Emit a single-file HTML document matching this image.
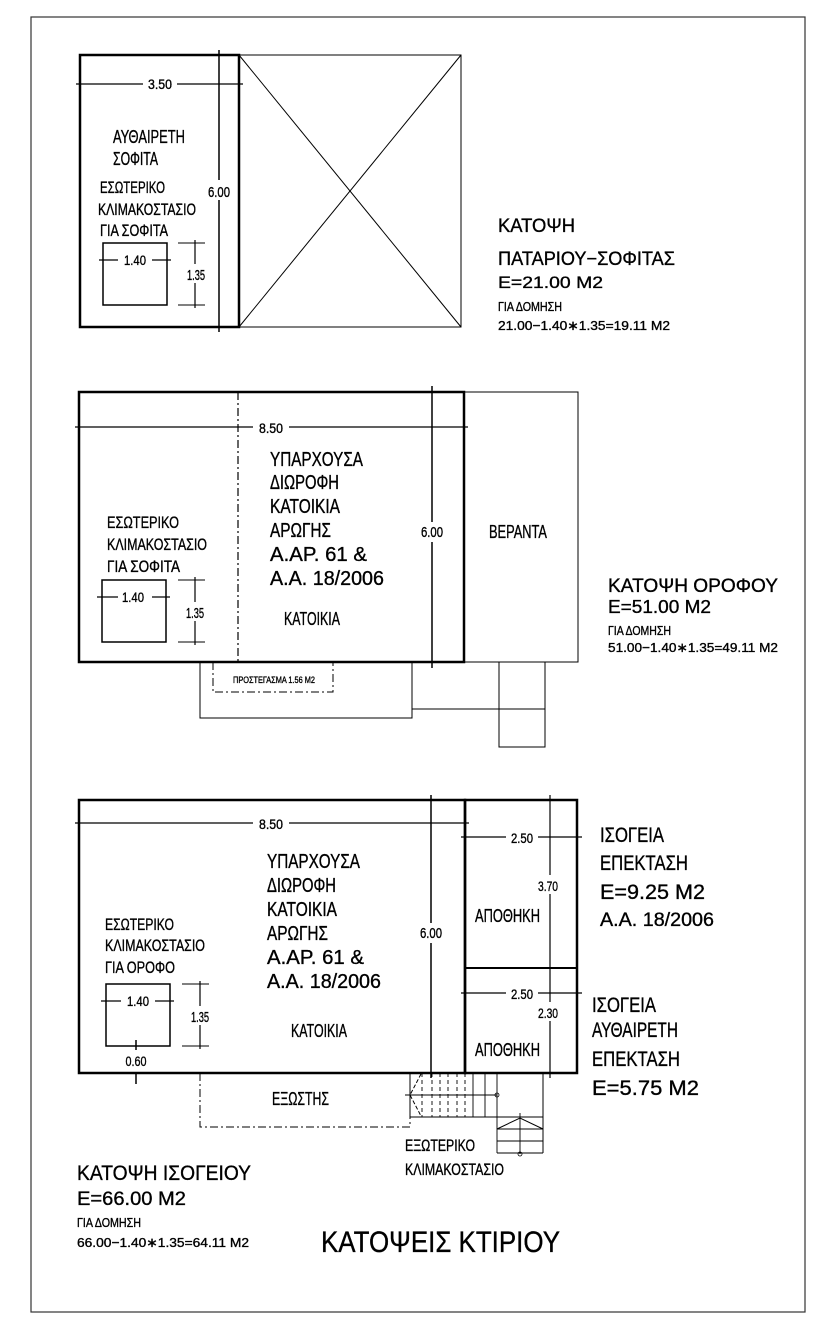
<!DOCTYPE html>
<html><head><meta charset="utf-8"><style>
html,body{margin:0;padding:0;background:#fff;}
svg{display:block;}
text{font-family:"Liberation Sans",sans-serif;fill:#000;stroke:#000;stroke-width:0.35;}
</style></head><body>
<svg width="827" height="1333" viewBox="0 0 827 1333" xmlns="http://www.w3.org/2000/svg">
<rect x="31" y="17" width="774" height="1295" fill="none" stroke="#333" stroke-width="1.2"/>

<!-- ===== TOP PLAN ===== -->
<g stroke="#000" fill="none">
<rect x="80" y="55" width="159" height="272" stroke-width="2.5"/>
<rect x="239" y="55" width="222" height="272" stroke-width="1"/>
<line x1="239" y1="55" x2="461" y2="327" stroke-width="1"/>
<line x1="461" y1="55" x2="239" y2="327" stroke-width="1"/>
<line x1="219" y1="50" x2="219" y2="332" stroke-width="1.5"/>
<line x1="76" y1="84" x2="243" y2="84" stroke-width="1.2"/>
<rect x="103" y="243" width="64" height="62" stroke-width="1.5"/>
<line x1="99" y1="260" x2="171" y2="260" stroke-width="1.2"/>
<line x1="195" y1="240" x2="195" y2="308" stroke-width="1.2"/>
<line x1="178" y1="243" x2="205" y2="243" stroke-width="1"/>
<line x1="178" y1="305" x2="205" y2="305" stroke-width="1"/>
</g>
<rect x="143" y="76" width="34" height="16" fill="#fff"/>
<text x="160" y="89" font-size="14" text-anchor="middle" textLength="24" lengthAdjust="spacingAndGlyphs">3.50</text>
<rect x="118" y="252" width="34" height="15" fill="#fff"/>
<text x="135" y="265" font-size="14" text-anchor="middle" textLength="22" lengthAdjust="spacingAndGlyphs">1.40</text>
<rect x="186" y="264" width="18" height="19" fill="#fff"/>
<text x="196" y="280" font-size="15" text-anchor="middle" textLength="18" lengthAdjust="spacingAndGlyphs">1.35</text>
<rect x="208" y="180" width="22" height="20" fill="#fff"/>
<text x="219" y="197" font-size="15" text-anchor="middle" textLength="22" lengthAdjust="spacingAndGlyphs">6.00</text>
<text x="113" y="143" font-size="18" textLength="72" lengthAdjust="spacingAndGlyphs">ΑΥΘΑΙΡΕΤΗ</text>
<text x="113" y="165" font-size="18" textLength="45" lengthAdjust="spacingAndGlyphs">ΣΟΦΙΤΑ</text>
<text x="100" y="193" font-size="17" textLength="65" lengthAdjust="spacingAndGlyphs">ΕΣΩΤΕΡΙΚΟ</text>
<text x="98" y="215" font-size="17" textLength="98" lengthAdjust="spacingAndGlyphs">ΚΛΙΜΑΚΟΣΤΑΣΙΟ</text>
<text x="100" y="236" font-size="17" textLength="68" lengthAdjust="spacingAndGlyphs">ΓΙΑ  ΣΟΦΙΤΑ</text>

<text x="498" y="232" font-size="19" textLength="77" lengthAdjust="spacingAndGlyphs">ΚΑΤΟΨΗ</text>
<text x="498" y="265" font-size="19" textLength="177" lengthAdjust="spacingAndGlyphs">ΠΑΤΑΡΙΟΥ−ΣΟΦΙΤΑΣ</text>
<text x="498" y="288" font-size="17" textLength="105" lengthAdjust="spacingAndGlyphs">Ε=21.00  Μ2</text>
<text x="498" y="311" font-size="13" textLength="64" lengthAdjust="spacingAndGlyphs">ΓΙΑ ΔΟΜΗΣΗ</text>
<text x="498" y="330" font-size="13" textLength="172" lengthAdjust="spacingAndGlyphs">21.00−1.40∗1.35=19.11  Μ2</text>

<!-- ===== MIDDLE PLAN ===== -->
<g stroke="#000" fill="none">
<rect x="79" y="392" width="385" height="270" stroke-width="2.5"/>
<line x1="238" y1="392" x2="238" y2="662" stroke-width="1.2" stroke-dasharray="8,3,2,3"/>
<rect x="464" y="392" width="114" height="270" stroke-width="1"/>
<line x1="432" y1="386" x2="432" y2="668" stroke-width="1.5"/>
<line x1="75" y1="427" x2="468" y2="427" stroke-width="1.2"/>
<rect x="102" y="580" width="64" height="62" stroke-width="1.5"/>
<line x1="97" y1="597" x2="170" y2="597" stroke-width="1.2"/>
<line x1="195" y1="577" x2="195" y2="645" stroke-width="1.2"/>
<line x1="178" y1="580" x2="205" y2="580" stroke-width="1"/>
<line x1="178" y1="642" x2="205" y2="642" stroke-width="1"/>
<polyline points="200,662 200,718 412,718 412,662" stroke-width="1"/>
<polyline points="213,662 213,692 333,692 333,662" stroke-width="1" stroke-dasharray="8,3,2,3"/>
<line x1="412" y1="709" x2="545" y2="709" stroke-width="1"/>
<rect x="499" y="662" width="46" height="47" stroke-width="1"/>
<rect x="499" y="709" width="46" height="38" stroke-width="1"/>
</g>
<rect x="253" y="420" width="36" height="16" fill="#fff"/>
<text x="271" y="433" font-size="14" text-anchor="middle" textLength="24" lengthAdjust="spacingAndGlyphs">8.50</text>
<rect x="118" y="589" width="34" height="15" fill="#fff"/>
<text x="133" y="602" font-size="14" text-anchor="middle" textLength="22" lengthAdjust="spacingAndGlyphs">1.40</text>
<rect x="186" y="602" width="18" height="19" fill="#fff"/>
<text x="195" y="618" font-size="15" text-anchor="middle" textLength="18" lengthAdjust="spacingAndGlyphs">1.35</text>
<rect x="420" y="522" width="24" height="20" fill="#fff"/>
<text x="432" y="537" font-size="15" text-anchor="middle" textLength="22" lengthAdjust="spacingAndGlyphs">6.00</text>
<text x="270" y="466" font-size="20" textLength="93" lengthAdjust="spacingAndGlyphs">ΥΠΑΡΧΟΥΣΑ</text>
<text x="270" y="489" font-size="20" textLength="69" lengthAdjust="spacingAndGlyphs">ΔΙΩΡΟΦΗ</text>
<text x="270" y="513" font-size="20" textLength="70" lengthAdjust="spacingAndGlyphs">ΚΑΤΟΙΚΙΑ</text>
<text x="270" y="537" font-size="20" textLength="61" lengthAdjust="spacingAndGlyphs">ΑΡΩΓΗΣ</text>
<text x="270" y="561" font-size="20" textLength="97" lengthAdjust="spacingAndGlyphs">Α.ΑΡ.  61  &amp;</text>
<text x="270" y="585" font-size="20" textLength="114" lengthAdjust="spacingAndGlyphs">Α.Α.  18/2006</text>
<text x="284" y="625" font-size="18" textLength="56" lengthAdjust="spacingAndGlyphs">ΚΑΤΟΙΚΙΑ</text>
<text x="489" y="538" font-size="18" textLength="58" lengthAdjust="spacingAndGlyphs">ΒΕΡΑΝΤΑ</text>
<text x="107" y="528" font-size="17" textLength="72" lengthAdjust="spacingAndGlyphs">ΕΣΩΤΕΡΙΚΟ</text>
<text x="107" y="550" font-size="17" textLength="100" lengthAdjust="spacingAndGlyphs">ΚΛΙΜΑΚΟΣΤΑΣΙΟ</text>
<text x="107" y="572" font-size="17" textLength="73" lengthAdjust="spacingAndGlyphs">ΓΙΑ  ΣΟΦΙΤΑ</text>
<text x="233" y="683" font-size="9" textLength="82" lengthAdjust="spacingAndGlyphs">ΠΡΟΣΤΕΓΑΣΜΑ  1.56  Μ2</text>

<text x="608" y="592" font-size="19" textLength="170" lengthAdjust="spacingAndGlyphs">ΚΑΤΟΨΗ  ΟΡΟΦΟΥ</text>
<text x="608" y="613" font-size="18" textLength="103" lengthAdjust="spacingAndGlyphs">Ε=51.00  Μ2</text>
<text x="608" y="635" font-size="13" textLength="63" lengthAdjust="spacingAndGlyphs">ΓΙΑ ΔΟΜΗΣΗ</text>
<text x="608" y="652" font-size="13" textLength="170" lengthAdjust="spacingAndGlyphs">51.00−1.40∗1.35=49.11  Μ2</text>

<!-- ===== BOTTOM PLAN ===== -->
<g stroke="#000" fill="none">
<rect x="79" y="800" width="386" height="273" stroke-width="2.5"/>
<rect x="465" y="800" width="112" height="273" stroke-width="2.5"/>
<line x1="465" y1="968" x2="577" y2="968" stroke-width="2"/>
<line x1="431" y1="795" x2="431" y2="1078" stroke-width="1.5"/>
<line x1="550" y1="795" x2="550" y2="1078" stroke-width="1.2"/>
<line x1="75" y1="823" x2="469" y2="823" stroke-width="1.2"/>
<line x1="461" y1="837" x2="582" y2="837" stroke-width="1.2"/>
<line x1="461" y1="993" x2="582" y2="993" stroke-width="1.2"/>
<rect x="106" y="984" width="64" height="62" stroke-width="1.5"/>
<line x1="101" y1="1001" x2="174" y2="1001" stroke-width="1.2"/>
<line x1="200" y1="981" x2="200" y2="1049" stroke-width="1.2"/>
<line x1="182" y1="984" x2="209" y2="984" stroke-width="1"/>
<line x1="182" y1="1046" x2="209" y2="1046" stroke-width="1"/>
<line x1="136" y1="1040" x2="136" y2="1050" stroke-width="1.5"/>
<line x1="136" y1="1073" x2="136" y2="1084" stroke-width="1.5"/>
<polyline points="200,1073 200,1127 410,1127 410,1117" stroke-width="1" stroke-dasharray="8,3,2,3"/>
<line x1="410" y1="1073" x2="410" y2="1117" stroke-width="1"/>
<line x1="410" y1="1117" x2="543" y2="1117" stroke-width="1"/>
<line x1="543" y1="1073" x2="543" y2="1153" stroke-width="1"/>
<g stroke-width="0.9" stroke-dasharray="4,3">
<line x1="422" y1="1073" x2="422" y2="1117"/><line x1="432" y1="1073" x2="432" y2="1117"/>
<line x1="440" y1="1073" x2="440" y2="1117"/><line x1="448" y1="1073" x2="448" y2="1117"/>
<line x1="457" y1="1073" x2="457" y2="1117"/><line x1="465" y1="1073" x2="465" y2="1117"/>
</g>
<g stroke-width="0.9">
<line x1="473" y1="1073" x2="473" y2="1117"/><line x1="485" y1="1073" x2="485" y2="1117"/>
<line x1="497" y1="1073" x2="497" y2="1153"/>
<line x1="497" y1="1129" x2="543" y2="1129"/><line x1="497" y1="1141" x2="543" y2="1141"/>
<line x1="497" y1="1153" x2="543" y2="1153"/>
<line x1="520" y1="1113" x2="520" y2="1154"/>
<line x1="405" y1="1095" x2="497" y2="1095"/>
</g>
<polyline points="497,1129 520,1118 543,1129" stroke-width="1"/>
<polyline points="421,1074 410,1095 421,1116" stroke-width="1" stroke-dasharray="4,2"/>
<circle cx="497" cy="1095" r="2" stroke-width="0.8"/>
<circle cx="520" cy="1154" r="2" stroke-width="0.8"/>
</g>
<rect x="253" y="816" width="36" height="16" fill="#fff"/>
<text x="271" y="829" font-size="14" text-anchor="middle" textLength="24" lengthAdjust="spacingAndGlyphs">8.50</text>
<rect x="506" y="830" width="32" height="16" fill="#fff"/>
<text x="522" y="843" font-size="14" text-anchor="middle" textLength="22" lengthAdjust="spacingAndGlyphs">2.50</text>
<rect x="506" y="986" width="32" height="16" fill="#fff"/>
<text x="522" y="999" font-size="14" text-anchor="middle" textLength="22" lengthAdjust="spacingAndGlyphs">2.50</text>
<rect x="539" y="875" width="22" height="19" fill="#fff"/>
<text x="548" y="891" font-size="14" text-anchor="middle" textLength="20" lengthAdjust="spacingAndGlyphs">3.70</text>
<rect x="539" y="1002" width="22" height="19" fill="#fff"/>
<text x="548" y="1018" font-size="14" text-anchor="middle" textLength="20" lengthAdjust="spacingAndGlyphs">2.30</text>
<rect x="121" y="993" width="34" height="15" fill="#fff"/>
<text x="138" y="1006" font-size="14" text-anchor="middle" textLength="22" lengthAdjust="spacingAndGlyphs">1.40</text>
<rect x="191" y="1006" width="18" height="19" fill="#fff"/>
<text x="200" y="1022" font-size="15" text-anchor="middle" textLength="18" lengthAdjust="spacingAndGlyphs">1.35</text>
<text x="136" y="1066" font-size="14" text-anchor="middle" textLength="21" lengthAdjust="spacingAndGlyphs">0.60</text>
<rect x="420" y="923" width="24" height="20" fill="#fff"/>
<text x="431" y="938" font-size="15" text-anchor="middle" textLength="22" lengthAdjust="spacingAndGlyphs">6.00</text>
<text x="267" y="868" font-size="20" textLength="93" lengthAdjust="spacingAndGlyphs">ΥΠΑΡΧΟΥΣΑ</text>
<text x="267" y="892" font-size="20" textLength="69" lengthAdjust="spacingAndGlyphs">ΔΙΩΡΟΦΗ</text>
<text x="267" y="916" font-size="20" textLength="70" lengthAdjust="spacingAndGlyphs">ΚΑΤΟΙΚΙΑ</text>
<text x="267" y="940" font-size="20" textLength="61" lengthAdjust="spacingAndGlyphs">ΑΡΩΓΗΣ</text>
<text x="267" y="964" font-size="20" textLength="97" lengthAdjust="spacingAndGlyphs">Α.ΑΡ.  61  &amp;</text>
<text x="267" y="988" font-size="20" textLength="114" lengthAdjust="spacingAndGlyphs">Α.Α.  18/2006</text>
<text x="291" y="1037" font-size="18" textLength="56" lengthAdjust="spacingAndGlyphs">ΚΑΤΟΙΚΙΑ</text>
<text x="105" y="930" font-size="17" textLength="69" lengthAdjust="spacingAndGlyphs">ΕΣΩΤΕΡΙΚΟ</text>
<text x="105" y="951" font-size="17" textLength="100" lengthAdjust="spacingAndGlyphs">ΚΛΙΜΑΚΟΣΤΑΣΙΟ</text>
<text x="105" y="973" font-size="17" textLength="70" lengthAdjust="spacingAndGlyphs">ΓΙΑ  ΟΡΟΦΟ</text>
<text x="475" y="922" font-size="18" textLength="65" lengthAdjust="spacingAndGlyphs">ΑΠΟΘΗΚΗ</text>
<text x="475" y="1056" font-size="18" textLength="65" lengthAdjust="spacingAndGlyphs">ΑΠΟΘΗΚΗ</text>
<text x="272" y="1105" font-size="18" textLength="57" lengthAdjust="spacingAndGlyphs">ΕΞΩΣΤΗΣ</text>
<text x="405" y="1151" font-size="17" textLength="70" lengthAdjust="spacingAndGlyphs">ΕΞΩΤΕΡΙΚΟ</text>
<text x="405" y="1175" font-size="17" textLength="99" lengthAdjust="spacingAndGlyphs">ΚΛΙΜΑΚΟΣΤΑΣΙΟ</text>

<text x="600" y="842" font-size="21" textLength="64" lengthAdjust="spacingAndGlyphs">ΙΣΟΓΕΙΑ</text>
<text x="600" y="870" font-size="21" textLength="88" lengthAdjust="spacingAndGlyphs">ΕΠΕΚΤΑΣΗ</text>
<text x="600" y="899" font-size="21" textLength="105" lengthAdjust="spacingAndGlyphs">Ε=9.25  Μ2</text>
<text x="600" y="926" font-size="19" textLength="114" lengthAdjust="spacingAndGlyphs">Α.Α.  18/2006</text>
<text x="592" y="1012" font-size="21" textLength="64" lengthAdjust="spacingAndGlyphs">ΙΣΟΓΕΙΑ</text>
<text x="592" y="1037" font-size="21" textLength="86" lengthAdjust="spacingAndGlyphs">ΑΥΘΑΙΡΕΤΗ</text>
<text x="592" y="1066" font-size="21" textLength="88" lengthAdjust="spacingAndGlyphs">ΕΠΕΚΤΑΣΗ</text>
<text x="592" y="1095" font-size="21" textLength="107" lengthAdjust="spacingAndGlyphs">Ε=5.75  Μ2</text>

<text x="77" y="1180" font-size="21" textLength="174" lengthAdjust="spacingAndGlyphs">ΚΑΤΟΨΗ  ΙΣΟΓΕΙΟΥ</text>
<text x="77" y="1205" font-size="19" textLength="109" lengthAdjust="spacingAndGlyphs">Ε=66.00  Μ2</text>
<text x="77" y="1227" font-size="13" textLength="64" lengthAdjust="spacingAndGlyphs">ΓΙΑ ΔΟΜΗΣΗ</text>
<text x="77" y="1247" font-size="13" textLength="172" lengthAdjust="spacingAndGlyphs">66.00−1.40∗1.35=64.11  Μ2</text>
<text x="321" y="1252" font-size="30" textLength="239" lengthAdjust="spacingAndGlyphs">ΚΑΤΟΨΕΙΣ ΚΤΙΡΙΟΥ</text>
</svg>
</body></html>
